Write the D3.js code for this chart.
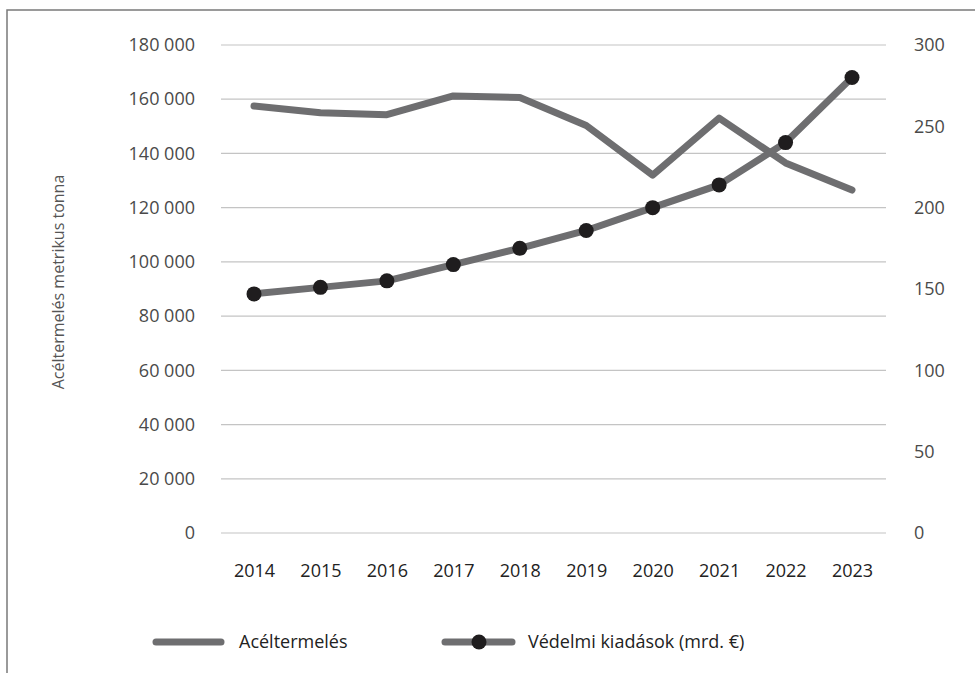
<!DOCTYPE html>
<html>
<head>
<meta charset="utf-8">
<script src="https://cdn.jsdelivr.net/npm/d3@7"></script>
<style>
  html, body { margin: 0; padding: 0; background: #fff; }
  svg { display: block; font-family: "Open Sans", sans-serif; }
</style>
</head>
<body>
<svg id="chart" width="975" height="673"></svg>
<script>
// ---- data ----
const years = ["2014","2015","2016","2017","2018","2019","2020","2021","2022","2023"];
const steelProduction = [157500, 155000, 154300, 161200, 160600, 150300, 132000, 153000, 136500, 126500];
const defenceSpending = [147, 151, 155, 165, 175, 186, 200, 214, 240, 280];
const leftTicks = [0, 20000, 40000, 60000, 80000, 100000, 120000, 140000, 160000, 180000];
const leftTickLabels = ["0", "20 000", "40 000", "60 000", "80 000", "100 000", "120 000", "140 000", "160 000", "180 000"];
const rightTicks = [0, 50, 100, 150, 200, 250, 300];
const seriesNames = ["Acéltermelés", "Védelmi kiadások (mrd. €)"];
const yAxisTitle = "Acéltermelés metrikus tonna";

// ---- layout ----
const W = 975, H = 673;
const plotLeft = 221, plotRight = 886, plotTop = 45, plotBottom = 533;
const lineColor = "#6e6e70", markerColor = "#1f1d1e";

const svg = d3.select("#chart");
svg.append("rect").attr("width", W).attr("height", H).attr("fill", "#fff");

// frame (top + left)
svg.append("path")
  .attr("d", `M7,${H} L7,10 L${W},10`)
  .attr("fill", "none").attr("stroke", "#7a7a7a").attr("stroke-width", 1.5);

const x = d3.scalePoint().domain(years).range([254, 852]);
const yL = d3.scaleLinear().domain([0, 180000]).range([plotBottom, plotTop]);
const yR = d3.scaleLinear().domain([0, 300]).range([plotBottom, plotTop]);

// gridlines
svg.append("g").selectAll("line").data(leftTicks).join("line")
  .attr("x1", plotLeft).attr("x2", plotRight)
  .attr("y1", d => yL(d)).attr("y2", d => yL(d))
  .attr("stroke", "#c4c4c4").attr("stroke-width", 1.2);

// left axis
const gL = svg.append("g").attr("transform", `translate(${plotLeft},0)`)
  .call(d3.axisLeft(yL).tickValues(leftTicks)
    .tickFormat((d, i) => leftTickLabels[i]).tickSize(0).tickPadding(26));
gL.select(".domain").remove();
gL.selectAll("text").attr("font-size", 18).attr("fill", "#4a4a4a")
  .attr("font-family", "'Open Sans', sans-serif");

// right axis
const gR = svg.append("g").attr("transform", `translate(${plotRight},0)`)
  .call(d3.axisRight(yR).tickValues(rightTicks).tickSize(0).tickPadding(28));
gR.select(".domain").remove();
gR.selectAll("text").attr("font-size", 18).attr("fill", "#4a4a4a")
  .attr("font-family", "'Open Sans', sans-serif");

// x axis
const gX = svg.append("g").attr("transform", `translate(0,${plotBottom})`)
  .call(d3.axisBottom(x).tickSize(0).tickPadding(31));
gX.select(".domain").remove();
gX.selectAll("text").attr("font-size", 18).attr("fill", "#222")
  .attr("font-family", "'Open Sans', sans-serif");

// y-axis title
svg.append("text")
  .attr("transform", "translate(58,282) rotate(-90)")
  .attr("text-anchor", "middle").attr("dy", "0.35em")
  .attr("font-size", 16).attr("fill", "#555")
  .text(yAxisTitle);

// steel line
const steelLine = d3.line().x((d, i) => x(years[i])).y(d => yL(d));
svg.append("path").datum(steelProduction)
  .attr("d", steelLine).attr("fill", "none")
  .attr("stroke", lineColor).attr("stroke-width", 7)
  .attr("stroke-linejoin", "round").attr("stroke-linecap", "round");

// defence line
const defLine = d3.line().x((d, i) => x(years[i])).y(d => yR(d));
svg.append("path").datum(defenceSpending)
  .attr("d", defLine).attr("fill", "none")
  .attr("stroke", lineColor).attr("stroke-width", 7)
  .attr("stroke-linejoin", "round").attr("stroke-linecap", "round");

svg.append("g").selectAll("circle").data(defenceSpending).join("circle")
  .attr("cx", (d, i) => x(years[i])).attr("cy", d => yR(d))
  .attr("r", 7.5).attr("fill", markerColor);

// legend
const legY = 642;
const leg = svg.append("g");
leg.append("line").attr("x1", 156).attr("x2", 221).attr("y1", legY).attr("y2", legY)
  .attr("stroke", lineColor).attr("stroke-width", 7).attr("stroke-linecap", "round");
leg.append("text").attr("x", 239).attr("y", legY).attr("dy", "0.35em")
  .attr("font-size", 18).attr("fill", "#222").text(seriesNames[0]);
leg.append("line").attr("x1", 445).attr("x2", 512).attr("y1", legY).attr("y2", legY)
  .attr("stroke", lineColor).attr("stroke-width", 7).attr("stroke-linecap", "round");
leg.append("circle").attr("cx", 479).attr("cy", legY).attr("r", 7.5).attr("fill", markerColor);
leg.append("text").attr("x", 528).attr("y", legY).attr("dy", "0.35em")
  .attr("font-size", 18).attr("fill", "#222").text(seriesNames[1]);
</script>
</body>
</html>
